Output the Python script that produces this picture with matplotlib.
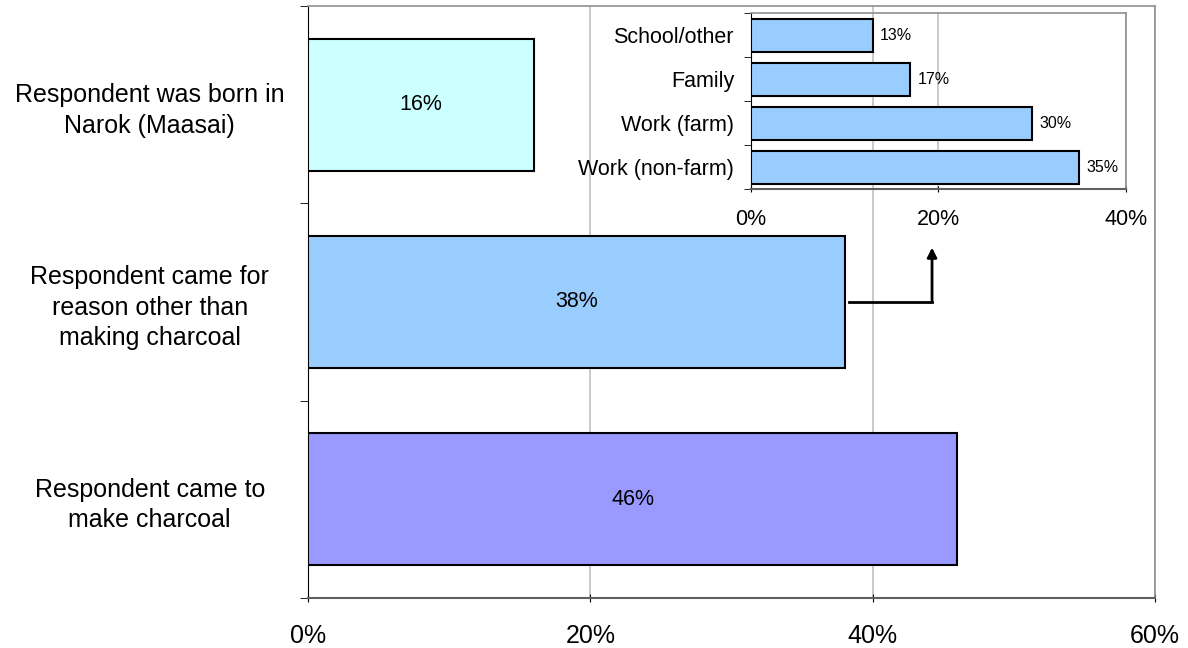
import matplotlib.pyplot as plt
from matplotlib.ticker import FuncFormatter, FixedLocator

plt.rcParams["font.family"] = ["Liberation Sans", "DejaVu Sans"]

# main chart (bottom to top)
categories = [
    "Respondent came to\nmake charcoal",
    "Respondent came for\nreason other than\nmaking charcoal",
    "Respondent was born in\nNarok (Maasai)",
]
shares = [46, 38, 16]
bar_colors = ["#9999FF", "#99CCFF", "#CCFFFF"]

# inset: reasons for coming (bottom to top)
reasons = ["Work (non-farm)", "Work (farm)", "Family", "School/other"]
reason_shares = [35, 30, 17, 13]

pct = FuncFormatter(lambda v, p: f"{v:.0f}%")

fig = plt.figure(figsize=(11.88, 6.48), dpi=100)
ax = fig.add_axes([0.2593, 0.0772, 0.7130, 0.9136])

ypos = range(len(categories))
ax.barh(ypos, shares, height=0.67, color=bar_colors, edgecolor="black", linewidth=1.5, zorder=3)
for y, v in zip(ypos, shares):
    ax.text(v / 2, y, f"{v}%", ha="center", va="center", fontsize=15.5, zorder=4)

ax.set_xlim(0, 60)
ax.set_ylim(-0.5, 2.5)
ax.set_xticks([0, 20, 40, 60])
ax.xaxis.set_major_formatter(pct)
ax.set_yticks(list(ypos))
ax.set_yticklabels(categories, fontsize=18, ha="center", linespacing=1.35)
ax.tick_params(axis="y", length=0, pad=114)
ax.yaxis.set_minor_locator(FixedLocator([-0.5, 0.5, 1.5, 2.5]))
ax.tick_params(axis="y", which="minor", length=6, direction="out", color="black")
ax.tick_params(axis="x", labelsize=18, length=6, direction="inout", pad=16)
ax.grid(axis="x", color="#C0C0C0", linewidth=1.2, zorder=0)
ax.spines["left"].set_color("black")
ax.spines["bottom"].set_color("#606060")
ax.spines["bottom"].set_linewidth(1.5)
for s in ["top", "right"]:
    ax.spines[s].set_color("#909090")
    ax.spines[s].set_linewidth(1.2)

# inset chart
ins = fig.add_axes([0.6319, 0.7083, 0.3157, 0.2716])
ins.patch.set_alpha(0)
iy = range(len(reasons))
ins.barh(iy, reason_shares, height=0.75, color="#99CCFF", edgecolor="black", linewidth=1.5, zorder=3)
for y, v in zip(iy, reason_shares):
    ins.text(v + 0.8, y, f"{v}%", ha="left", va="center", fontsize=11.5)
ins.set_xlim(0, 40)
ins.set_ylim(-0.5, 3.5)
ins.set_xticks([0, 20, 40])
ins.xaxis.set_major_formatter(pct)
ins.set_yticks(list(iy))
ins.set_yticklabels(reasons, fontsize=15.5)
ins.tick_params(axis="y", length=0, pad=12)
ins.yaxis.set_minor_locator(FixedLocator([-0.5, 0.5, 1.5, 2.5, 3.5]))
ins.tick_params(axis="y", which="minor", length=5, direction="out")
ins.tick_params(axis="x", labelsize=15.5, length=5, direction="inout", pad=12)
ins.grid(axis="x", color="#C0C0C0", linewidth=1.2, zorder=0)
ins.spines["left"].set_color("black")
ins.spines["bottom"].set_color("#606060")
ins.spines["bottom"].set_linewidth(1.5)
for s in ["top", "right"]:
    ins.spines[s].set_color("#909090")
    ins.spines[s].set_linewidth(1.2)

# elbow arrow from the 38% bar to the inset
ax.plot([38.3, 44.2], [1, 1], color="black", linewidth=2, zorder=5)
ax.annotate("", xy=(44.2, 1.29), xytext=(44.2, 0.99),
            arrowprops=dict(arrowstyle="-|>", color="black", lw=2, mutation_scale=14),
            zorder=5)

fig.savefig("out.png", dpi=100)
